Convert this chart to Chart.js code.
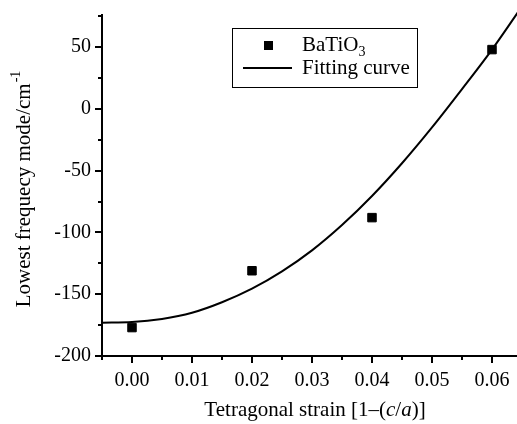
<!DOCTYPE html>
<html>
<head>
<meta charset="utf-8">
<script src="https://cdn.jsdelivr.net/npm/chart.js@4/dist/chart.umd.min.js"></script>
<style>
  html, body { margin: 0; padding: 0; background: #fff; overflow: hidden; }
  #wrap { width: 529px; height: 424px; }
</style>
</head>
<body>
<div id="wrap"><canvas id="myChart" width="529" height="424"></canvas></div>
<script>
'use strict'
// measured points (BaTiO3)
const strain = [0.00, 0.02, 0.04, 0.06];
const lowestMode = [-177, -131, -88, 48];

// fitting curve
const fitStrain = [-0.005, 0.000, 0.005, 0.010, 0.015, 0.020, 0.025, 0.030, 0.035, 0.040, 0.045, 0.050, 0.055, 0.060, 0.065];
const fitMode = [-173, -172.5, -170, -165, -156.5, -145.5, -131.5, -114.5, -94, -70.5, -44, -15, 16, 48, 83];

const xTickLabels = ['0.00', '0.01', '0.02', '0.03', '0.04', '0.05', '0.06'];
const yTickLabels = ['-200', '-150', '-100', '-50', '0', '50'];

const FONT = 'Liberation Serif, Times New Roman, serif';
const ctx = document.getElementById('myChart').getContext('2d');

// major / minor tick marks, outside the axes
const tickMarks = {
    id: 'tickMarks',
    afterDraw(chart) {
        const c = chart.ctx;
        const xs = chart.scales.x;
        const ys = chart.scales.y;
        c.save();
        c.strokeStyle = '#000';
        c.lineWidth = 2;
        c.beginPath();
        for (let t of xs.ticks) {
            const px = Math.round(xs.getPixelForValue(t.value));
            const len = t.label ? 7 : 4;
            c.moveTo(px, xs.top);
            c.lineTo(px, xs.top + len);
        }
        for (let t of ys.ticks) {
            const py = Math.round(ys.getPixelForValue(t.value));
            const len = t.label ? 7 : 4;
            c.moveTo(ys.right, py);
            c.lineTo(ys.right - len, py);
        }
        c.stroke();
        c.restore();
    }
};

// axis titles + legend (need sub/superscripts and italics)
const textParts = {
    id: 'textParts',
    afterDraw(chart) {
        const c = chart.ctx;
        const area = chart.chartArea;
        c.save();
        c.fillStyle = '#000';
        c.textBaseline = 'middle';

        // y title
        const yMain = 'Lowest frequecy mode/cm';
        const ySup = '-1';
        c.font = '21px ' + FONT;
        const wMain = c.measureText(yMain).width;
        c.font = '14px ' + FONT;
        const wSup = c.measureText(ySup).width;
        c.translate(24, (area.top + area.bottom) / 2 + 4);
        c.rotate(-Math.PI / 2);
        let x0 = -(wMain + wSup) / 2;
        c.font = '21px ' + FONT;
        c.fillText(yMain, x0, 0);
        c.font = '14px ' + FONT;
        c.fillText(ySup, x0 + wMain + 1, -8);
        c.setTransform(1, 0, 0, 1, 0, 0);

        // x title
        const parts = [
            ['Tetragonal strain [1\u2013(', ''],
            ['c', 'italic '],
            ['/', ''],
            ['a', 'italic '],
            [')]', '']
        ];
        let total = 0;
        for (let p of parts) {
            c.font = p[1] + '21px ' + FONT;
            total += c.measureText(p[0]).width;
        }
        let x = (area.left + area.right) / 2 + 3 - total / 2;
        for (let p of parts) {
            c.font = p[1] + '21px ' + FONT;
            c.fillText(p[0], x, 410);
            x += c.measureText(p[0]).width;
        }

        // legend
        c.strokeStyle = '#000';
        c.lineWidth = 1;
        c.strokeRect(232.5, 28.5, 185, 59);
        c.fillRect(264, 41, 9, 9);
        c.lineWidth = 2;
        c.beginPath();
        c.moveTo(243, 68);
        c.lineTo(292, 68);
        c.stroke();
        c.font = '21px ' + FONT;
        c.fillText('BaTiO', 302, 45);
        const wb = c.measureText('BaTiO').width;
        c.font = '14px ' + FONT;
        c.fillText('3', 302 + wb, 52);
        c.font = '21px ' + FONT;
        c.fillText('Fitting curve', 302, 68);
        c.restore();
    }
};

function chartConfig() {
    return {
        type: 'scatter',
        data: {
            datasets: [{
                label: 'BaTiO3',
                data: strain.map((s, i) => ({x: s, y: lowestMode[i]})),
                pointStyle: 'rect',
                pointRadius: 6,
                pointBorderWidth: 1,
                backgroundColor: '#000',
                borderColor: '#000',
                showLine: false
            }, {
                label: 'Fitting curve',
                data: fitStrain.map((s, i) => ({x: s, y: fitMode[i]})),
                showLine: true,
                pointRadius: 0,
                borderColor: '#000',
                borderWidth: 2,
                cubicInterpolationMode: 'monotone',
                clip: false
            }]
        },
        options: {
            responsive: false,
            animation: false,
            devicePixelRatio: 1,
            layout: {padding: {left: 0, right: 3, top: 15, bottom: 0}},
            plugins: {
                legend: {display: false},
                tooltip: {enabled: false}
            },
            scales: {
                x: {
                    type: 'linear',
                    min: -0.005,
                    max: 0.065,
                    afterFit: (s) => {
                        s.height = 68;
                        s.paddingLeft = 0;
                        s.paddingRight = 0;
                    },
                    grid: {display: false, drawTicks: false},
                    border: {display: true, color: '#000', width: 2},
                    ticks: {
                        stepSize: 0.005,
                        includeBounds: false,
                        autoSkip: false,
                        maxRotation: 0,
                        padding: 13,
                        color: '#000',
                        font: {family: FONT, size: 20},
                        callback: (v) => {
                            const lab = v.toFixed(2);
                            return (Math.round(v * 1000) % 10 === 0 && xTickLabels.includes(lab)) ? lab : '';
                        }
                    }
                },
                y: {
                    min: -200,
                    max: 76,
                    afterFit: (s) => {
                        s.width = 102;
                        s.paddingTop = 0;
                        s.paddingBottom = 0;
                    },
                    grid: {display: false, drawTicks: false},
                    border: {display: true, color: '#000', width: 2},
                    ticks: {
                        stepSize: 25,
                        includeBounds: false,
                        autoSkip: false,
                        padding: 11,
                        color: '#000',
                        font: {family: FONT, size: 20},
                        callback: (v) => yTickLabels.includes(String(v)) ? String(v) : ''
                    }
                }
            }
        },
        plugins: [tickMarks, textParts]
    };
}

const myChart = new Chart(ctx, chartConfig());
</script>
</body>
</html>
